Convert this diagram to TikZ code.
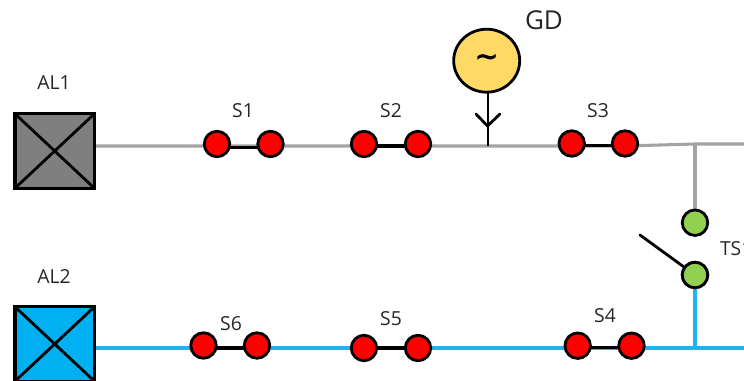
\documentclass[tikz,border=0pt]{standalone}
\usepackage{fontspec}
\setmainfont{Open Sans}
\newfontfamily\symfont{DejaVu Sans}
\usetikzlibrary{backgrounds,shapes.geometric}
\colorlet{busgrey}{black!36}
\definecolor{busblue}{HTML}{1FB4EE}
\definecolor{boxgrey}{HTML}{7F7F7F}
\definecolor{boxblue}{HTML}{00B0F0}
\definecolor{gdyellow}{HTML}{FFD966}
\definecolor{tsgreen}{HTML}{92D050}
\newlength{\px}\setlength{\px}{0.75pt}
\tikzset{
  x=0.75pt,y=-0.75pt,
  every node/.style={inner sep=0pt,outer sep=0pt},
  loadbox/.style={draw=black,line width=2.4pt,minimum width=79.5\px,minimum height=74.5\px,rectangle},
  contact/.style={circle,draw=black,line width=2.1pt,fill=red,minimum size=25.5\px},
  tscontact/.style={contact,fill=tsgreen},
  gen/.style={ellipse,draw=black,line width=2.1pt,fill=gdyellow,minimum width=66\px,minimum height=63\px},
  lbl/.style={text=black!85,font=\fontsize{14.5pt}{17pt}\selectfont},
  greybus/.style={draw=busgrey,line width=2.3pt},
  bluebus/.style={draw=busblue,line width=2.3pt},
  link/.style={draw=black,line width=2.3pt},
  wire/.style={draw=black,line width=2.1pt},
}
\begin{document}
\begin{tikzpicture}
\useasboundingbox (0,0) rectangle (744,381);
\clip (0,0) rectangle (744,381);
% loads
\node[loadbox,fill=boxgrey] (al1) at (54.7,151) {};
\node[loadbox,fill=boxblue] (al2) at (54.7,344) {};
\draw[wire] (al1.north west) -- (al1.south east) (al1.north east) -- (al1.south west);
\draw[wire] (al2.north west) -- (al2.south east) (al2.north east) -- (al2.south west);
% contacts
\node[contact] (s1a) at (217,144) {};
\node[contact] (s1b) at (270.5,144) {};
\node[contact] (s2a) at (364,144) {};
\node[contact] (s2b) at (418,144) {};
\node[contact] (s3a) at (571.7,143.5) {};
\node[contact] (s3b) at (625,143.5) {};
\node[contact] (s4a) at (577.7,345.7) {};
\node[contact] (s4b) at (631.5,345.7) {};
\node[contact] (s5a) at (364,348) {};
\node[contact] (s5b) at (418,348) {};
\node[contact] (s6a) at (203.5,345.5) {};
\node[contact] (s6b) at (257,345.5) {};
\node[tscontact] (tsa) at (695,222.7) {};
\node[tscontact] (tsb) at (695,275) {};
% generator
\node[gen] (gd) at (486.7,60.7) {\raisebox{-2pt}{\symfont\fontsize{22pt}{22pt}\selectfont\bfseries\char"223C}};
% free ends and junctions
\coordinate (gl) at (95,146);
\coordinate (gj) at (488,146);
\coordinate (gt) at (695,144);
\coordinate (gr) at (744,144);
\coordinate (bl) at (95,348);
\coordinate (bt) at (695,348);
\coordinate (br) at (744,348);
\coordinate (blade) at (640,235);
\coordinate (tip) at (487.5,126);
\coordinate (arml) at (476,114);
\coordinate (armr) at (500,114);
\begin{pgfonlayer}{background}
\draw[greybus] (gl) -- (gj) -- (gj -| s3b) -- (gt) -- (gr);
\draw[greybus] (gt) -- (tsa);
\draw[bluebus] (bl) -- (bt) -- (br);
\draw[bluebus] (tsb) -- (bt);
\draw[link] ([yshift=-2.4pt]s1a.center) -- ([yshift=-2.4pt]s1b.center);
\draw[link] ([yshift=-1.5pt]s2a.center) -- ([yshift=-1.5pt]s2b.center);
\draw[link] ([yshift=-1.6pt]s3a.center) -- ([yshift=-1.6pt]s3b.center);
\draw[link] ([yshift=-1.7pt]s4a.center) -- ([yshift=-1.7pt]s4b.center);
\draw[link] (s5a) -- (s5b);
\draw[link] ([yshift=-1.9pt]s6a.center) -- ([yshift=-1.9pt]s6b.center);
\draw[wire] (gd.south -| gj) -- (gj);
\end{pgfonlayer}
\draw[wire,line cap=round] (arml) -- (tip) -- (armr);
\draw[wire,line cap=round] (blade) -- (tsb);
\node[tscontact] at (tsb) {};
% labels
\node[lbl] (lal1) at (54,83) {AL1};
\node[lbl] (lal2) at (54,277) {AL2};
\node[lbl] (ls1) at (243,111) {S1};
\node[lbl] (ls2) at (391,111) {S2};
\node[lbl] (ls3) at (598,111) {S3};
\node[lbl] (ls4) at (605,316) {S4};
\node[lbl] (ls5) at (391,319) {S5};
\node[lbl] (ls6) at (231,324) {S6};
\node[lbl,anchor=west] (lts) at (720,249) {TS1};
\node[lbl,font=\fontsize{19.5pt}{22pt}\selectfont] (lgd) at (544,20) {GD};
\end{tikzpicture}
\end{document}
